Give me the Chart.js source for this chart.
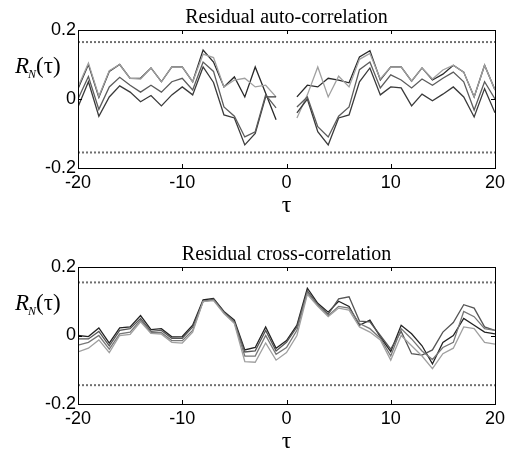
<!DOCTYPE html>
<html>
<head>
<meta charset="utf-8">
<script src="https://cdn.jsdelivr.net/npm/chart.js@4/dist/chart.umd.min.js"></script>
<style>
html, body { margin: 0; padding: 0; background: #fff; }
#wrap { position: relative; width: 510px; height: 456px; }
#wrap canvas { position: absolute; left: 0; }
</style>
</head>
<body>
<div id="wrap">
  <canvas id="autoChart" width="510" height="228" style="top:0"></canvas>
  <canvas id="crossChart" width="510" height="228" style="top:228px"></canvas>
</div>
<script>
// lags (tau)
const lags = [-20, -19, -18, -17, -16, -15, -14, -13, -12, -11, -10, -9, -8, -7, -6, -5, -4, -3, -2, -1, 0,
              1, 2, 3, 4, 5, 6, 7, 8, 9, 10, 11, 12, 13, 14, 15, 16, 17, 18, 19, 20];
const xTicks = [-20, -10, 0, 10, 20];
const yTicks = [-0.2, 0, 0.2];

// residual auto-correlation (no value at lag 0)
const autoDark  = [0.030, 0.100, 0.005, 0.080, 0.100, 0.060, 0.060, 0.090, 0.050, 0.093, 0.093, 0.050, 0.142, 0.107, 0.035, 0.064, 0.006, 0.093, 0.017, -0.060, null,
                   0.006, 0.040, 0.035, 0.060, 0.055, 0.047, 0.122, 0.140, 0.055, 0.093, 0.093, 0.052, 0.090, 0.055, 0.072, 0.098, 0.078, 0.006, 0.098, 0.026];
const autoLight = [0.035, 0.104, 0.008, 0.082, 0.100, 0.060, 0.058, 0.090, 0.050, 0.093, 0.093, 0.050, 0.130, 0.120, 0.035, 0.055, 0.060, 0.035, 0.040, 0.006, null,
                   -0.055, 0.012, 0.093, 0.006, 0.066, 0.035, 0.115, 0.132, 0.058, 0.093, 0.093, 0.052, 0.090, 0.058, 0.084, 0.098, 0.078, 0.006, 0.098, 0.026];
const autoMid   = [0.000, 0.065, -0.030, 0.035, 0.063, 0.040, 0.020, 0.040, 0.020, 0.050, 0.060, 0.026, 0.107, 0.080, -0.023, -0.050, -0.110, -0.095, 0.012, -0.026, null,
                   -0.023, 0.006, -0.080, -0.110, -0.050, -0.023, 0.085, 0.107, 0.032, 0.070, 0.055, 0.032, 0.058, 0.040, 0.060, 0.078, 0.050, -0.032, 0.050, 0.000];
const autoLow   = [-0.023, 0.050, -0.050, 0.006, 0.038, 0.020, -0.008, 0.010, -0.020, 0.012, 0.035, 0.012, 0.093, 0.048, -0.046, -0.055, -0.133, -0.100, 0.006, 0.006, null,
                   -0.040, 0.000, -0.095, -0.133, -0.055, -0.046, 0.050, 0.090, 0.012, 0.035, 0.032, -0.020, 0.014, -0.005, 0.014, 0.035, 0.006, -0.052, 0.030, -0.040];
const autoBounds = [0.165, -0.155];

// residual cross-correlation
const crossB1 = [0.000, -0.003, 0.022, -0.022, 0.022, 0.025, 0.058, 0.017, 0.020, -0.004, -0.003, 0.030, 0.104, 0.108, 0.070, 0.045, -0.042, -0.035, 0.025, -0.037, -0.015,
                 0.030, 0.138, 0.094, 0.068, 0.100, 0.085, 0.030, 0.045, -0.004, -0.047, 0.030, 0.005, -0.030, -0.083, -0.020, 0.000, 0.050, 0.030, 0.010, 0.005];
const crossB2 = [-0.010, -0.010, 0.012, -0.030, 0.015, 0.020, 0.050, 0.012, 0.015, -0.008, -0.008, 0.025, 0.100, 0.106, 0.068, 0.040, -0.048, -0.045, 0.015, -0.045, -0.020,
                 0.025, 0.130, 0.090, 0.062, 0.107, 0.113, 0.042, 0.040, 0.000, -0.040, 0.012, -0.053, -0.057, -0.042, 0.010, 0.038, 0.090, 0.080, 0.025, 0.015];
const crossB3 = [-0.028, -0.020, 0.000, -0.040, 0.005, 0.010, 0.045, 0.008, 0.008, -0.015, -0.015, 0.015, 0.100, 0.104, 0.066, 0.038, -0.060, -0.060, 0.000, -0.055, -0.035,
                 0.015, 0.125, 0.088, 0.058, 0.085, 0.080, 0.035, 0.020, -0.008, -0.060, 0.020, -0.010, -0.045, -0.070, -0.035, -0.020, 0.070, 0.055, 0.020, 0.015];
const crossB4 = [-0.048, -0.037, -0.013, -0.050, 0.000, 0.003, 0.040, 0.006, 0.004, -0.020, -0.022, 0.010, 0.099, 0.102, 0.064, 0.035, -0.076, -0.078, -0.022, -0.072, -0.050,
                 0.000, 0.120, 0.085, 0.055, 0.080, 0.074, 0.025, 0.010, -0.013, -0.072, 0.000, -0.030, -0.060, -0.097, -0.053, -0.037, 0.025, 0.020, -0.020, -0.025];
const crossBounds = [0.155, -0.145];

const toPoints = vals => vals.map((v, i) => ({ x: lags[i], y: v }));

function line(vals, color) {
    return { data: toPoints(vals), borderColor: color, borderWidth: 1.3, pointRadius: 0, tension: 0, spanGaps: false };
}
function bound(val) {
    return { data: [{ x: lags[0], y: val }, { x: lags[lags.length - 1], y: val }],
             borderColor: '#6f6f6f', borderWidth: 2, borderDash: [2, 2], pointRadius: 0 };
}

// box, inward ticks, title, axis labels
const decor = {
    id: 'decor',
    afterDraw(chart, args, opts) {
        const { ctx, chartArea: a, scales } = chart;
        ctx.save();
        ctx.strokeStyle = '#000';
        ctx.lineWidth = 1;
        ctx.strokeRect(a.left + 0.5, a.top + 0.5, a.right - a.left, a.bottom - a.top);
        ctx.beginPath();
        xTicks.forEach(t => {
            const px = Math.round(scales.x.getPixelForValue(t)) + 0.5;
            ctx.moveTo(px, a.top); ctx.lineTo(px, a.top + 4);
            ctx.moveTo(px, a.bottom); ctx.lineTo(px, a.bottom - 4);
        });
        yTicks.forEach(t => {
            const py = Math.round(scales.y.getPixelForValue(t)) + 0.5;
            ctx.moveTo(a.left, py); ctx.lineTo(a.left + 4, py);
            ctx.moveTo(a.right, py); ctx.lineTo(a.right - 4, py);
        });
        ctx.stroke();

        const cx = (a.left + a.right) / 2;
        ctx.fillStyle = '#000';
        ctx.textAlign = 'center';
        ctx.textBaseline = 'alphabetic';
        ctx.font = '20px "Liberation Serif"';
        ctx.fillText(opts.title, cx, a.top - 7);
        ctx.font = '24px "Liberation Serif"';
        ctx.fillText('τ', cx, a.bottom + 44);

        // R_N(tau)
        ctx.textAlign = 'left';
        const by = a.top + 43;
        ctx.font = 'italic 23px "Liberation Serif"';
        ctx.fillText('R', 15, by);
        const rw = ctx.measureText('R').width;
        ctx.font = 'italic 12px "Liberation Serif"';
        ctx.fillText('N', 14 + rw, by + 5);
        const nw = ctx.measureText('N').width;
        ctx.font = '23px "Liberation Serif"';
        ctx.fillText('(τ)', 14 + rw + nw, by);
        ctx.restore();
    }
};

function makeChart(id, datasets, title, areaTop, areaBottom) {
    return new Chart(document.getElementById(id), {
        type: 'line',
        data: { datasets: datasets },
        plugins: [decor],
        options: {
            responsive: false,
            animation: false,
            layout: { padding: { top: areaTop, right: 15, left: 0, bottom: 0 } },
            plugins: { legend: { display: false }, tooltip: { enabled: false }, decor: { title: title } },
            scales: {
                x: {
                    type: 'linear', min: -20, max: 20,
                    grid: { display: false, drawTicks: false }, border: { display: false },
                    afterBuildTicks: s => { s.ticks = xTicks.map(v => ({ value: v })); },
                    afterFit: s => { s.height = 228 - areaBottom; },
                    ticks: { padding: 4, color: '#000', font: { family: 'Liberation Sans', size: 18 }, maxRotation: 0 }
                },
                y: {
                    min: -0.2, max: 0.2,
                    grid: { display: false, drawTicks: false }, border: { display: false },
                    afterBuildTicks: s => { s.ticks = yTicks.map(v => ({ value: v })); },
                    afterFit: s => { s.width = 78; },
                    ticks: { padding: 2, color: '#000', font: { family: 'Liberation Sans', size: 18 },
                             callback: v => String(Math.round(v * 10) / 10) }
                }
            }
        }
    });
}

makeChart('autoChart', [
    bound(autoBounds[0]), bound(autoBounds[1]),
    line(autoMid, '#5c5c5c'), line(autoLow, '#3a3a3a'),
    line(autoLight, '#a0a0a0'), line(autoDark, '#2a2a2a')
], 'Residual auto-correlation', 30, 168);

makeChart('crossChart', [
    bound(crossBounds[0]), bound(crossBounds[1]),
    line(crossB4, '#a0a0a0'), line(crossB3, '#777777'),
    line(crossB2, '#555555'), line(crossB1, '#222222')
], 'Residual cross-correlation', 39, 176);
</script>
</body>
</html>
